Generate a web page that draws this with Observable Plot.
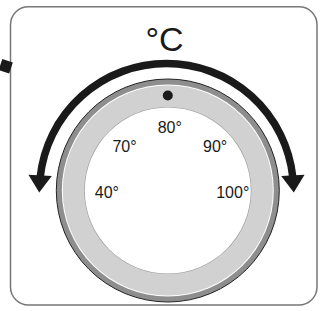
<!DOCTYPE html>
<html><head><meta charset="utf-8">
<script src="https://cdn.jsdelivr.net/npm/d3@7"></script>
<script src="https://cdn.jsdelivr.net/npm/@observablehq/plot@0.6"></script>
<style>html,body{margin:0;padding:0;background:#fff;} svg{display:block}</style>
</head><body><div id="chart"></div>
<script>
// ---- data ----
const unitLabel = ["°C"];
const tempLabels = ["40°", "70°", "80°", "90°", "100°"];
const tempAngles = [-92, -46, 0, 46, 92];      // degrees from top of dial
const turnArcEnds = [-84, 84];                 // arc of the turning arrow
const turnHeadAngles = [-87, 87];              // arrowheads at both ends
const markerAngles = [0];                      // setting marker dot

// ---- layout ----
const W = 324, H = 311;
const G = {
  cx: 167.3, cy: 190,          // dial centre
  arcCx: 166, arcCy: 190, arcR: 127,
  labelR: 63, markerR: 95,
  box: {x1: 10.5, y1: 6.7, x2: 317, y2: 305},
  stub: {x1: 0, y1: 64, x2: 10.5, y2: 67.5}
};
const polar = (cx, cy, r, a) => ({x: cx + r * Math.sin(a * Math.PI / 180), y: cy - r * Math.cos(a * Math.PI / 180)});

const labels = tempLabels.map((t, i) => ({text: t, ...polar(G.cx, G.cy, G.labelR, tempAngles[i])}));
const arcStart = polar(G.arcCx, G.arcCy, G.arcR, turnArcEnds[0]);
const arcEnd = polar(G.arcCx, G.arcCy, G.arcR, turnArcEnds[1]);
const arc = [{x1: arcStart.x, y1: arcStart.y, x2: arcEnd.x, y2: arcEnd.y}];
const heads = turnHeadAngles.map(a => ({a, ...polar(G.arcCx, G.arcCy, G.arcR, a)}));
const markers = markerAngles.map(a => polar(G.cx, G.cy, G.markerR, a));
const centre = [{x: G.cx, y: G.cy}];

const headSymbol = {
  draw(ctx, size) {
    const r = Math.sqrt(size / Math.PI);
    const h = r * 0.73;
    ctx.moveTo(0, -h);
    ctx.lineTo(r, h);
    ctx.lineTo(-r, h);
    ctx.closePath();
  }
};

const font = "'Liberation Sans', Arial, Helvetica, sans-serif";
const ink = "#1a1a1a";

const chart = Plot.plot({
  width: W, height: H, margin: 0,
  x: {domain: [0, W], range: [0, W], axis: null},
  y: {domain: [0, H], range: [0, H], axis: null},
  style: {background: "#fff", fontFamily: font},
  marks: [
    Plot.rect([G.box], {x1: "x1", y1: "y1", x2: "x2", y2: "y2", rx: 18, fill: "#fff", stroke: "#777", strokeWidth: 1.5}),
    Plot.link([G.stub], {x1: "x1", y1: "y1", x2: "x2", y2: "y2", stroke: ink, strokeWidth: 11.5, strokeLinecap: "butt"}),
    // dial rings
    Plot.dot(centre, {x: "x", y: "y", r: 111.5, fill: "#8e8e8e", stroke: "#222", strokeWidth: 1}),
    Plot.dot(centre, {x: "x", y: "y", r: 106, fill: "#fff"}),
    Plot.dot(centre, {x: "x", y: "y", r: 105, fill: "#d1d1d1"}),
    Plot.dot(centre, {x: "x", y: "y", r: 83.6, fill: "#9a9a9a"}),
    Plot.dot(centre, {x: "x", y: "y", r: 83, fill: "#fff"}),
    Plot.dot(markers, {x: "x", y: "y", r: 5, fill: ink}),
    // turning arrow
    Plot.arrow(arc, {x1: "x1", y1: "y1", x2: "x2", y2: "y2", bend: 84, headLength: 0, stroke: ink, strokeWidth: 7.5, strokeLinecap: "butt"}),
    Plot.dot(heads, {x: "x", y: "y", symbol: headSymbol, r: 11.7, rotate: d => d.a < 0 ? 270 + d.a : 90 + d.a, fill: ink, stroke: "none"}),
    // texts
    Plot.text(labels, {x: "x", y: "y", text: "text", dx: 2, fontSize: 16, fill: ink, textAnchor: "middle", lineAnchor: "middle"}),
    Plot.text(unitLabel, {x: () => 164, y: () => 39.5, text: d => d, fontSize: 34, fill: ink, textAnchor: "middle", lineAnchor: "middle"})
  ]
});
document.getElementById("chart").appendChild(chart);
</script>
</body></html>
